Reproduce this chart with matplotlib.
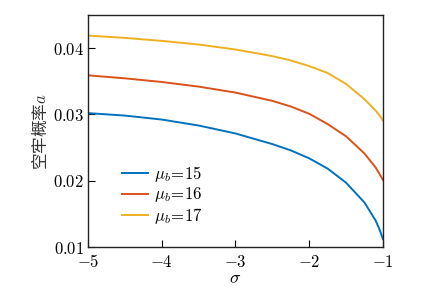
import matplotlib
matplotlib.use("Agg")
import matplotlib.pyplot as plt
from matplotlib.ticker import FixedLocator, FuncFormatter

plt.rcParams['font.family'] = ['DejaVu Serif', 'Noto Sans CJK SC']
plt.rcParams['mathtext.fontset'] = 'cm'

sigma = [-5, -4.5, -4, -3.5, -3, -2.5, -2.25, -2, -1.75, -1.5, -1.25, -1.1, -1.05, -1]
a_15 = [0.0302, 0.02983, 0.02923, 0.02833, 0.02713, 0.02553, 0.02458, 0.02338, 0.02183,
        0.0197, 0.0167, 0.0140, 0.01275, 0.0112]
a_16 = [0.0359, 0.03545, 0.0349, 0.0342, 0.0333, 0.03205, 0.0312, 0.0301, 0.02855,
        0.0267, 0.0241, 0.0220, 0.0211, 0.0201]
a_17 = [0.0419, 0.04155, 0.0411, 0.04055, 0.0398, 0.0388, 0.03815, 0.0373, 0.03625,
        0.0346, 0.0323, 0.0306, 0.0299, 0.0291]
labels = [r'$\mu_b\!=\!15$', r'$\mu_b\!=\!16$', r'$\mu_b\!=\!17$']
colors = ['#0072BD', '#D95319', '#EDB120']
xticks = [-5, -4, -3, -2, -1]
yticks = [0.01, 0.02, 0.03, 0.04]

fig = plt.figure(figsize=(4.22, 2.89), dpi=100)
ax = fig.add_axes([0.2085, 0.1453, 0.699, 0.8027])
for ys, lab, c in zip([a_15, a_16, a_17], labels, colors):
    ax.plot(sigma, ys, color=c, lw=1.4, label=lab)

ax.set_xlim(-5, -1)
ax.set_ylim(0.01, 0.045)
ax.xaxis.set_major_locator(FixedLocator(xticks))
ax.yaxis.set_major_locator(FixedLocator(yticks))
ax.xaxis.set_major_formatter(FuncFormatter(lambda v, p: r'$%d$' % v))
ax.yaxis.set_major_formatter(FuncFormatter(lambda v, p: r'$%.2f$' % v))
ax.tick_params(direction='in', length=5, width=0.8, labelsize=12, top=False, right=False)
ax.tick_params(axis='x', pad=5)
ax.tick_params(axis='y', pad=3)
for s in ax.spines.values():
    s.set_linewidth(1.0)
    s.set_color('#222222')

ax.set_xlabel(r'$\sigma$', fontsize=13, labelpad=-1)
ax.set_ylabel('空牢概率' + r'$a$', fontsize=12, color='#333333',
              family=['Noto Sans CJK SC', 'DejaVu Sans'], labelpad=2)

leg = ax.legend(loc='lower left', bbox_to_anchor=(0.075, 0.04), frameon=False,
                fontsize=12, handlelength=1.6, handletextpad=0.35, labelspacing=0.1,
                borderaxespad=0.3)

fig.savefig('out.png', dpi=100)
